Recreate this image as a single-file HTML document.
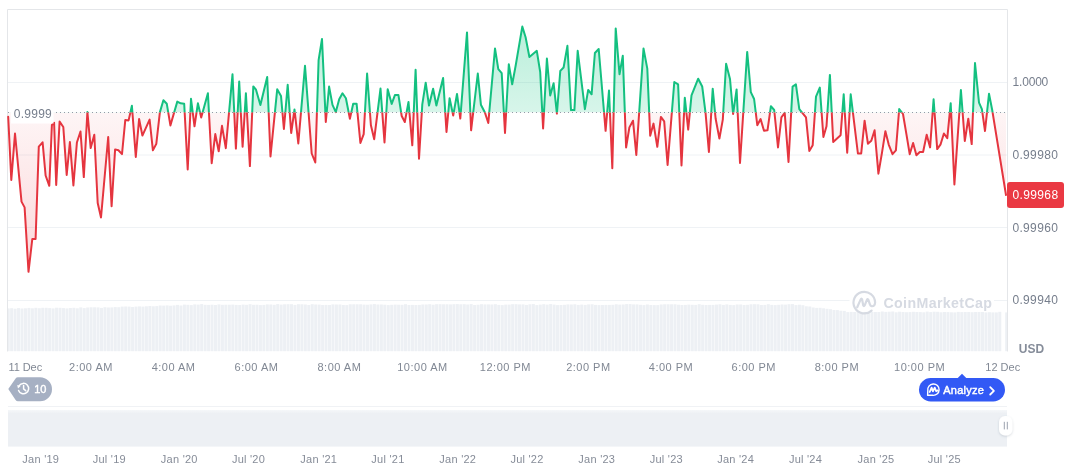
<!DOCTYPE html>
<html><head><meta charset="utf-8"><title>Chart</title>
<style>
html,body{margin:0;padding:0;background:#fff;}
body{width:1072px;height:470px;overflow:hidden;position:relative;font-family:"Liberation Sans",Arial,sans-serif;}
svg{position:absolute;left:0;top:0;display:block;}
svg text{font-family:"Liberation Sans",Arial,sans-serif;}
</style></head><body>
<svg width="1072" height="470" viewBox="0 0 1072 470">
<defs>
 <clipPath id="above"><rect x="0" y="0" width="1072" height="112.4"/></clipPath>
 <clipPath id="below"><rect x="0" y="112.4" width="1072" height="300"/></clipPath>
 <linearGradient id="gfill" x1="0" y1="26" x2="0" y2="112.4" gradientUnits="userSpaceOnUse">
  <stop offset="0" stop-color="#16c784" stop-opacity="0.3"/>
  <stop offset="1" stop-color="#16c784" stop-opacity="0.17"/>
 </linearGradient>
 <linearGradient id="rfill" x1="0" y1="112.4" x2="0" y2="272" gradientUnits="userSpaceOnUse">
  <stop offset="0" stop-color="#ea3943" stop-opacity="0.05"/>
  <stop offset="1" stop-color="#ea3943" stop-opacity="0.2"/>
 </linearGradient>
 <linearGradient id="navg" x1="0" y1="410" x2="0" y2="446.6" gradientUnits="userSpaceOnUse">
  <stop offset="0" stop-color="#f5f7f9"/>
  <stop offset="0.1" stop-color="#edf0f4"/>
  <stop offset="1" stop-color="#edf0f4"/>
 </linearGradient>
 <filter id="hs" x="-50%" y="-50%" width="200%" height="200%">
  <feDropShadow dx="0" dy="1" stdDeviation="1.2" flood-color="#58667e" flood-opacity="0.25"/>
 </filter>
</defs>

<!-- grid -->
<g stroke="#eff2f5" stroke-width="1" fill="none">
 <line x1="8" y1="82.5" x2="1007" y2="82.5"/>
 <line x1="8" y1="155" x2="1007" y2="155"/>
 <line x1="8" y1="227.5" x2="1007" y2="227.5"/>
 <line x1="8" y1="300.5" x2="1007" y2="300.5"/>
</g>
<path d="M7.5 351.5V9.5H1007.5V351.5" fill="none" stroke="#e4e6e9" stroke-width="1"/>

<!-- watermark -->
<rect x="849.5" y="289" width="144.5" height="22.5" fill="#fff"/>
<!-- volume -->
<g fill="#edf0f4">
<rect x="8.00" y="308.4" width="1.70" height="42.8"/>
<rect x="10.15" y="308.2" width="3.00" height="43.0"/>
<rect x="13.61" y="308.7" width="3.00" height="42.5"/>
<rect x="17.06" y="308.1" width="3.00" height="43.1"/>
<rect x="20.52" y="308.5" width="3.00" height="42.7"/>
<rect x="23.97" y="308.3" width="3.00" height="42.9"/>
<rect x="27.43" y="307.9" width="3.00" height="43.3"/>
<rect x="30.89" y="308.3" width="3.00" height="42.9"/>
<rect x="34.34" y="307.8" width="3.00" height="43.4"/>
<rect x="37.80" y="308.2" width="3.00" height="43.0"/>
<rect x="41.25" y="307.8" width="3.00" height="43.4"/>
<rect x="44.70" y="307.8" width="3.00" height="43.4"/>
<rect x="48.16" y="308.1" width="3.00" height="43.1"/>
<rect x="51.61" y="308.4" width="3.00" height="42.8"/>
<rect x="55.07" y="307.7" width="3.00" height="43.5"/>
<rect x="58.53" y="307.8" width="3.00" height="43.4"/>
<rect x="61.98" y="308.1" width="3.00" height="43.1"/>
<rect x="65.44" y="308.4" width="3.00" height="42.8"/>
<rect x="68.89" y="308.0" width="3.00" height="43.2"/>
<rect x="72.34" y="307.8" width="3.00" height="43.4"/>
<rect x="75.80" y="308.3" width="3.00" height="42.9"/>
<rect x="79.26" y="307.4" width="3.00" height="43.8"/>
<rect x="82.71" y="308.1" width="3.00" height="43.1"/>
<rect x="86.17" y="307.5" width="3.00" height="43.7"/>
<rect x="89.62" y="307.3" width="3.00" height="43.9"/>
<rect x="93.08" y="307.3" width="3.00" height="43.9"/>
<rect x="96.53" y="307.4" width="3.00" height="43.8"/>
<rect x="99.98" y="307.9" width="3.00" height="43.3"/>
<rect x="103.44" y="307.2" width="3.00" height="44.0"/>
<rect x="106.90" y="307.5" width="3.00" height="43.7"/>
<rect x="110.35" y="307.4" width="3.00" height="43.8"/>
<rect x="113.81" y="307.1" width="3.00" height="44.1"/>
<rect x="117.26" y="307.2" width="3.00" height="44.0"/>
<rect x="120.72" y="306.6" width="3.00" height="44.6"/>
<rect x="124.17" y="306.5" width="3.00" height="44.7"/>
<rect x="127.62" y="306.6" width="3.00" height="44.6"/>
<rect x="131.08" y="307.0" width="3.00" height="44.2"/>
<rect x="134.53" y="306.6" width="3.00" height="44.6"/>
<rect x="137.99" y="306.4" width="3.00" height="44.8"/>
<rect x="141.44" y="306.6" width="3.00" height="44.6"/>
<rect x="144.90" y="306.3" width="3.00" height="44.9"/>
<rect x="148.35" y="306.0" width="3.00" height="45.2"/>
<rect x="151.81" y="306.3" width="3.00" height="44.9"/>
<rect x="155.26" y="306.1" width="3.00" height="45.1"/>
<rect x="158.72" y="305.5" width="3.00" height="45.7"/>
<rect x="162.17" y="305.6" width="3.00" height="45.6"/>
<rect x="165.63" y="305.4" width="3.00" height="45.8"/>
<rect x="169.08" y="305.7" width="3.00" height="45.5"/>
<rect x="172.54" y="305.4" width="3.00" height="45.8"/>
<rect x="176.00" y="304.9" width="3.00" height="46.3"/>
<rect x="179.45" y="305.5" width="3.00" height="45.7"/>
<rect x="182.91" y="304.6" width="3.00" height="46.6"/>
<rect x="186.36" y="304.8" width="3.00" height="46.4"/>
<rect x="189.81" y="305.1" width="3.00" height="46.1"/>
<rect x="193.27" y="304.4" width="3.00" height="46.8"/>
<rect x="196.72" y="304.6" width="3.00" height="46.6"/>
<rect x="200.18" y="304.1" width="3.00" height="47.1"/>
<rect x="203.63" y="304.8" width="3.00" height="46.4"/>
<rect x="207.09" y="304.9" width="3.00" height="46.3"/>
<rect x="210.54" y="304.7" width="3.00" height="46.5"/>
<rect x="214.00" y="305.0" width="3.00" height="46.2"/>
<rect x="217.45" y="304.4" width="3.00" height="46.8"/>
<rect x="220.91" y="304.8" width="3.00" height="46.4"/>
<rect x="224.36" y="304.7" width="3.00" height="46.5"/>
<rect x="227.82" y="304.7" width="3.00" height="46.5"/>
<rect x="231.28" y="304.6" width="3.00" height="46.6"/>
<rect x="234.73" y="304.9" width="3.00" height="46.3"/>
<rect x="238.19" y="305.0" width="3.00" height="46.2"/>
<rect x="241.64" y="304.6" width="3.00" height="46.6"/>
<rect x="245.09" y="304.8" width="3.00" height="46.4"/>
<rect x="248.55" y="304.2" width="3.00" height="47.0"/>
<rect x="252.00" y="304.8" width="3.00" height="46.4"/>
<rect x="255.46" y="304.7" width="3.00" height="46.5"/>
<rect x="258.92" y="305.1" width="3.00" height="46.1"/>
<rect x="262.37" y="304.9" width="3.00" height="46.3"/>
<rect x="265.82" y="304.4" width="3.00" height="46.8"/>
<rect x="269.28" y="304.5" width="3.00" height="46.7"/>
<rect x="272.74" y="304.8" width="3.00" height="46.4"/>
<rect x="276.19" y="304.1" width="3.00" height="47.1"/>
<rect x="279.64" y="304.6" width="3.00" height="46.6"/>
<rect x="283.10" y="304.3" width="3.00" height="46.9"/>
<rect x="286.56" y="304.2" width="3.00" height="47.0"/>
<rect x="290.01" y="304.2" width="3.00" height="47.0"/>
<rect x="293.46" y="304.9" width="3.00" height="46.3"/>
<rect x="296.92" y="304.2" width="3.00" height="47.0"/>
<rect x="300.38" y="304.3" width="3.00" height="46.9"/>
<rect x="303.83" y="304.5" width="3.00" height="46.7"/>
<rect x="307.28" y="305.0" width="3.00" height="46.2"/>
<rect x="310.74" y="304.2" width="3.00" height="47.0"/>
<rect x="314.19" y="304.5" width="3.00" height="46.7"/>
<rect x="317.65" y="304.6" width="3.00" height="46.6"/>
<rect x="321.11" y="305.0" width="3.00" height="46.2"/>
<rect x="324.56" y="304.9" width="3.00" height="46.3"/>
<rect x="328.01" y="305.0" width="3.00" height="46.2"/>
<rect x="331.47" y="304.4" width="3.00" height="46.8"/>
<rect x="334.93" y="304.5" width="3.00" height="46.7"/>
<rect x="338.38" y="304.5" width="3.00" height="46.7"/>
<rect x="341.83" y="305.0" width="3.00" height="46.2"/>
<rect x="345.29" y="305.1" width="3.00" height="46.1"/>
<rect x="348.75" y="304.3" width="3.00" height="46.9"/>
<rect x="352.20" y="304.3" width="3.00" height="46.9"/>
<rect x="355.65" y="304.3" width="3.00" height="46.9"/>
<rect x="359.11" y="304.3" width="3.00" height="46.9"/>
<rect x="362.56" y="304.6" width="3.00" height="46.6"/>
<rect x="366.02" y="304.7" width="3.00" height="46.5"/>
<rect x="369.48" y="304.4" width="3.00" height="46.8"/>
<rect x="372.93" y="304.1" width="3.00" height="47.1"/>
<rect x="376.38" y="304.5" width="3.00" height="46.7"/>
<rect x="379.84" y="304.5" width="3.00" height="46.7"/>
<rect x="383.30" y="304.7" width="3.00" height="46.5"/>
<rect x="386.75" y="305.1" width="3.00" height="46.1"/>
<rect x="390.20" y="304.8" width="3.00" height="46.4"/>
<rect x="393.66" y="304.6" width="3.00" height="46.6"/>
<rect x="397.12" y="304.7" width="3.00" height="46.5"/>
<rect x="400.57" y="304.8" width="3.00" height="46.4"/>
<rect x="404.02" y="304.2" width="3.00" height="47.0"/>
<rect x="407.48" y="305.0" width="3.00" height="46.2"/>
<rect x="410.94" y="304.9" width="3.00" height="46.3"/>
<rect x="414.39" y="305.0" width="3.00" height="46.2"/>
<rect x="417.84" y="304.9" width="3.00" height="46.3"/>
<rect x="421.30" y="304.5" width="3.00" height="46.7"/>
<rect x="424.75" y="304.5" width="3.00" height="46.7"/>
<rect x="428.21" y="304.2" width="3.00" height="47.0"/>
<rect x="431.67" y="304.7" width="3.00" height="46.5"/>
<rect x="435.12" y="304.2" width="3.00" height="47.0"/>
<rect x="438.57" y="304.2" width="3.00" height="47.0"/>
<rect x="442.03" y="304.3" width="3.00" height="46.9"/>
<rect x="445.49" y="304.3" width="3.00" height="46.9"/>
<rect x="448.94" y="304.4" width="3.00" height="46.8"/>
<rect x="452.39" y="304.2" width="3.00" height="47.0"/>
<rect x="455.85" y="304.1" width="3.00" height="47.1"/>
<rect x="459.31" y="304.3" width="3.00" height="46.9"/>
<rect x="462.76" y="304.2" width="3.00" height="47.0"/>
<rect x="466.21" y="304.5" width="3.00" height="46.7"/>
<rect x="469.67" y="304.1" width="3.00" height="47.1"/>
<rect x="473.12" y="305.0" width="3.00" height="46.2"/>
<rect x="476.58" y="304.7" width="3.00" height="46.5"/>
<rect x="480.04" y="304.2" width="3.00" height="47.0"/>
<rect x="483.49" y="304.4" width="3.00" height="46.8"/>
<rect x="486.94" y="304.4" width="3.00" height="46.8"/>
<rect x="490.40" y="304.5" width="3.00" height="46.7"/>
<rect x="493.86" y="304.2" width="3.00" height="47.0"/>
<rect x="497.31" y="304.9" width="3.00" height="46.3"/>
<rect x="500.76" y="305.1" width="3.00" height="46.1"/>
<rect x="504.22" y="304.6" width="3.00" height="46.6"/>
<rect x="507.68" y="304.6" width="3.00" height="46.6"/>
<rect x="511.13" y="304.2" width="3.00" height="47.0"/>
<rect x="514.59" y="304.2" width="3.00" height="47.0"/>
<rect x="518.04" y="304.4" width="3.00" height="46.8"/>
<rect x="521.50" y="304.4" width="3.00" height="46.8"/>
<rect x="524.95" y="304.9" width="3.00" height="46.3"/>
<rect x="528.41" y="304.3" width="3.00" height="46.9"/>
<rect x="531.86" y="304.1" width="3.00" height="47.1"/>
<rect x="535.32" y="305.1" width="3.00" height="46.1"/>
<rect x="538.77" y="304.6" width="3.00" height="46.6"/>
<rect x="542.23" y="304.2" width="3.00" height="47.0"/>
<rect x="545.68" y="304.6" width="3.00" height="46.6"/>
<rect x="549.14" y="304.1" width="3.00" height="47.1"/>
<rect x="552.59" y="304.6" width="3.00" height="46.6"/>
<rect x="556.05" y="305.1" width="3.00" height="46.1"/>
<rect x="559.50" y="305.0" width="3.00" height="46.2"/>
<rect x="562.96" y="304.8" width="3.00" height="46.4"/>
<rect x="566.41" y="304.4" width="3.00" height="46.8"/>
<rect x="569.87" y="304.5" width="3.00" height="46.7"/>
<rect x="573.32" y="304.3" width="3.00" height="46.9"/>
<rect x="576.78" y="304.9" width="3.00" height="46.3"/>
<rect x="580.23" y="304.6" width="3.00" height="46.6"/>
<rect x="583.69" y="304.9" width="3.00" height="46.3"/>
<rect x="587.14" y="304.4" width="3.00" height="46.8"/>
<rect x="590.60" y="304.3" width="3.00" height="46.9"/>
<rect x="594.05" y="304.9" width="3.00" height="46.3"/>
<rect x="597.51" y="305.1" width="3.00" height="46.1"/>
<rect x="600.96" y="305.0" width="3.00" height="46.2"/>
<rect x="604.42" y="304.9" width="3.00" height="46.3"/>
<rect x="607.87" y="304.9" width="3.00" height="46.3"/>
<rect x="611.33" y="304.8" width="3.00" height="46.4"/>
<rect x="614.78" y="304.3" width="3.00" height="46.9"/>
<rect x="618.24" y="304.6" width="3.00" height="46.6"/>
<rect x="621.69" y="304.5" width="3.00" height="46.7"/>
<rect x="625.15" y="304.1" width="3.00" height="47.1"/>
<rect x="628.60" y="304.1" width="3.00" height="47.1"/>
<rect x="632.06" y="304.4" width="3.00" height="46.8"/>
<rect x="635.51" y="304.4" width="3.00" height="46.8"/>
<rect x="638.97" y="304.8" width="3.00" height="46.4"/>
<rect x="642.42" y="305.1" width="3.00" height="46.1"/>
<rect x="645.88" y="304.5" width="3.00" height="46.7"/>
<rect x="649.33" y="305.0" width="3.00" height="46.2"/>
<rect x="652.79" y="305.1" width="3.00" height="46.1"/>
<rect x="656.24" y="305.1" width="3.00" height="46.1"/>
<rect x="659.70" y="304.5" width="3.00" height="46.7"/>
<rect x="663.15" y="304.3" width="3.00" height="46.9"/>
<rect x="666.61" y="304.3" width="3.00" height="46.9"/>
<rect x="670.06" y="304.3" width="3.00" height="46.9"/>
<rect x="673.52" y="304.3" width="3.00" height="46.9"/>
<rect x="676.97" y="304.7" width="3.00" height="46.5"/>
<rect x="680.43" y="305.0" width="3.00" height="46.2"/>
<rect x="683.88" y="304.9" width="3.00" height="46.3"/>
<rect x="687.34" y="304.6" width="3.00" height="46.6"/>
<rect x="690.79" y="304.8" width="3.00" height="46.4"/>
<rect x="694.25" y="304.9" width="3.00" height="46.3"/>
<rect x="697.70" y="304.2" width="3.00" height="47.0"/>
<rect x="701.16" y="304.8" width="3.00" height="46.4"/>
<rect x="704.61" y="305.0" width="3.00" height="46.2"/>
<rect x="708.07" y="304.9" width="3.00" height="46.3"/>
<rect x="711.52" y="304.9" width="3.00" height="46.3"/>
<rect x="714.98" y="304.6" width="3.00" height="46.6"/>
<rect x="718.43" y="304.3" width="3.00" height="46.9"/>
<rect x="721.89" y="304.9" width="3.00" height="46.3"/>
<rect x="725.34" y="304.4" width="3.00" height="46.8"/>
<rect x="728.80" y="304.9" width="3.00" height="46.3"/>
<rect x="732.25" y="305.1" width="3.00" height="46.1"/>
<rect x="735.71" y="304.5" width="3.00" height="46.7"/>
<rect x="739.16" y="304.5" width="3.00" height="46.7"/>
<rect x="742.62" y="305.0" width="3.00" height="46.2"/>
<rect x="746.07" y="304.8" width="3.00" height="46.4"/>
<rect x="749.53" y="304.3" width="3.00" height="46.9"/>
<rect x="752.98" y="304.2" width="3.00" height="47.0"/>
<rect x="756.44" y="304.3" width="3.00" height="46.9"/>
<rect x="759.89" y="305.0" width="3.00" height="46.2"/>
<rect x="763.35" y="304.9" width="3.00" height="46.3"/>
<rect x="766.80" y="304.2" width="3.00" height="47.0"/>
<rect x="770.26" y="304.9" width="3.00" height="46.3"/>
<rect x="773.71" y="305.1" width="3.00" height="46.1"/>
<rect x="777.17" y="304.8" width="3.00" height="46.4"/>
<rect x="780.62" y="304.5" width="3.00" height="46.7"/>
<rect x="784.08" y="304.6" width="3.00" height="46.6"/>
<rect x="787.53" y="304.2" width="3.00" height="47.0"/>
<rect x="790.99" y="304.1" width="3.00" height="47.1"/>
<rect x="794.44" y="305.1" width="3.00" height="46.1"/>
<rect x="797.90" y="304.7" width="3.00" height="46.5"/>
<rect x="801.35" y="305.2" width="3.00" height="46.0"/>
<rect x="804.81" y="306.3" width="3.00" height="44.9"/>
<rect x="808.26" y="306.5" width="3.00" height="44.7"/>
<rect x="811.72" y="307.5" width="3.00" height="43.7"/>
<rect x="815.17" y="307.9" width="3.00" height="43.3"/>
<rect x="818.63" y="307.8" width="3.00" height="43.4"/>
<rect x="822.08" y="308.3" width="3.00" height="42.9"/>
<rect x="825.54" y="308.8" width="3.00" height="42.4"/>
<rect x="828.99" y="309.2" width="3.00" height="42.0"/>
<rect x="832.45" y="310.0" width="3.00" height="41.2"/>
<rect x="835.90" y="310.1" width="3.00" height="41.1"/>
<rect x="839.36" y="310.7" width="3.00" height="40.5"/>
<rect x="842.81" y="310.9" width="3.00" height="40.3"/>
<rect x="846.27" y="312.1" width="3.00" height="39.1"/>
<rect x="849.72" y="311.9" width="3.00" height="39.3"/>
<rect x="853.18" y="312.0" width="3.00" height="39.2"/>
<rect x="856.63" y="312.1" width="3.00" height="39.1"/>
<rect x="860.09" y="312.4" width="3.00" height="38.8"/>
<rect x="863.54" y="311.9" width="3.00" height="39.3"/>
<rect x="867.00" y="312.4" width="3.00" height="38.8"/>
<rect x="870.45" y="312.0" width="3.00" height="39.2"/>
<rect x="873.91" y="312.0" width="3.00" height="39.2"/>
<rect x="877.36" y="312.0" width="3.00" height="39.2"/>
<rect x="880.82" y="311.5" width="3.00" height="39.7"/>
<rect x="884.27" y="311.9" width="3.00" height="39.3"/>
<rect x="887.73" y="311.7" width="3.00" height="39.5"/>
<rect x="891.18" y="311.5" width="3.00" height="39.7"/>
<rect x="894.64" y="312.3" width="3.00" height="38.9"/>
<rect x="898.09" y="311.7" width="3.00" height="39.5"/>
<rect x="901.55" y="312.0" width="3.00" height="39.2"/>
<rect x="905.00" y="312.2" width="3.00" height="39.0"/>
<rect x="908.46" y="312.1" width="3.00" height="39.1"/>
<rect x="911.91" y="311.8" width="3.00" height="39.4"/>
<rect x="915.37" y="312.0" width="3.00" height="39.2"/>
<rect x="918.82" y="312.1" width="3.00" height="39.1"/>
<rect x="922.28" y="312.3" width="3.00" height="38.9"/>
<rect x="925.73" y="311.6" width="3.00" height="39.6"/>
<rect x="929.19" y="312.1" width="3.00" height="39.1"/>
<rect x="932.64" y="311.7" width="3.00" height="39.5"/>
<rect x="936.10" y="311.8" width="3.00" height="39.4"/>
<rect x="939.55" y="312.3" width="3.00" height="38.9"/>
<rect x="943.01" y="312.0" width="3.00" height="39.2"/>
<rect x="946.46" y="312.1" width="3.00" height="39.1"/>
<rect x="949.92" y="312.3" width="3.00" height="38.9"/>
<rect x="953.37" y="312.4" width="3.00" height="38.8"/>
<rect x="956.83" y="311.9" width="3.00" height="39.3"/>
<rect x="960.28" y="312.1" width="3.00" height="39.1"/>
<rect x="963.74" y="312.0" width="3.00" height="39.2"/>
<rect x="967.19" y="312.0" width="3.00" height="39.2"/>
<rect x="970.65" y="312.2" width="3.00" height="39.0"/>
<rect x="974.10" y="312.0" width="3.00" height="39.2"/>
<rect x="977.56" y="312.0" width="3.00" height="39.2"/>
<rect x="981.01" y="312.0" width="3.00" height="39.2"/>
<rect x="984.47" y="312.4" width="3.00" height="38.8"/>
<rect x="987.92" y="312.2" width="3.00" height="39.0"/>
<rect x="991.38" y="312.4" width="3.00" height="38.8"/>
<rect x="994.83" y="312.4" width="3.00" height="38.8"/>
<rect x="998.29" y="311.8" width="3.00" height="39.4"/>
<rect x="1005.20" y="312.4" width="1.80" height="38.8"/>
</g>

<g fill="none" stroke="#d6dae2" stroke-width="2.2" stroke-linecap="round" stroke-linejoin="round">
 <path d="M871.6 310.6A10.8 10.8 0 1 1 875.1 302.6Q874.8 306.6 871.6 306.2Q870.4 306 869.8 304.2L868.4 299.9Q867.7 298.2 866.9 299.9L864.7 305.3Q863.9 306.8 863.2 305.3L862.1 299.4Q861.5 297.6 860.7 299.4L857.2 307.2"/>
</g>
<text x="883.4" y="308.2" font-size="14.2" font-weight="700" fill="#d6dae2" letter-spacing="0.38">CoinMarketCap</text>

<!-- area fills -->
<polygon points="8.2,112.4 8.2,116.8 11.3,180 15,133.5 21.5,201.6 24.6,207.4 28.5,271.8 32.3,239 35.6,239 38.8,146.6 42.6,142.3 45.6,175.5 49.3,185.8 51.9,125 54.1,122.8 56.2,185 59.6,121.6 63.3,127 66.7,175 69.9,142 73.4,185.5 76.9,142.5 80.5,131.5 83.8,177.1 87.4,112.1 90.7,148.1 94.3,134.8 97.7,203 101,217.5 108.2,137 111.6,206.2 115.1,149.4 118.4,150.3 122,154.1 125.3,119.9 128.6,120.4 131.9,105.8 135.8,156.9 139.1,119 142.4,135.6 149.6,119.6 152.9,150.3 156.3,143.9 159.9,112.1 163.4,100.2 166.8,103.8 170.4,125.4 177.3,101.6 180.6,103.3 184.2,103.8 187.7,169.5 191,98.8 194.5,126.3 197.9,103.3 201.2,117.5 207.9,93.3 211.7,163.2 215.3,134.1 218.7,151.3 222,125.8 225.8,148.2 232.5,74.3 235.9,148.6 239.2,81.5 242.6,146.8 245.9,93.3 249.9,166.1 253.3,86.4 256,89.7 260.4,105 267.2,77 270.5,156.5 277.2,89.3 281,95.9 283.9,129 287.7,84.8 291.2,133 294.5,109.5 298.3,143.5 305,65.8 311.7,153.5 315.3,162.5 318.6,60.2 322,39 325.8,122 329.1,86.6 332.5,104.9 335.8,112.1 339.2,99.3 342.5,93.3 345.9,98.2 349.9,118.7 353.2,103.7 356.6,103.7 360.4,143 363.7,134.1 367.1,73.6 370.9,125.2 374.2,139.2 380.5,88.6 384.5,142.4 387.7,89.3 391.7,103.9 395,94.9 398.4,94.9 401.7,116 404.8,122 408.5,102 412.3,145.3 415.6,69.7 419,158.7 422.3,104.4 425.7,82.7 429,105.5 433.1,88.7 436.4,105.5 443.1,78 446.5,131.9 449.6,98.2 453.2,115.5 457,94 460.3,118.5 467,32.4 471.1,130.3 477.8,73.5 480.9,104.7 484.9,112.5 488.3,123 495,48.5 498.3,69.1 501.7,73.1 505,133 508.8,64.2 512.2,84.3 515.6,66 522.3,26.6 525.6,37.3 529.4,57 536.8,50.8 540.2,72 543.1,128.5 546.9,58.6 550.2,95.4 553.6,83.2 556.9,113.6 560.3,70.9 563.6,67.5 567.4,45.8 571,110.1 574.4,110.1 577.7,50.8 584.9,109.2 588.2,89.9 591.6,94.3 594.9,53 598.7,49 605.6,130.8 609,90.5 612.3,168.3 615.7,28.4 619.5,74.2 622.8,55.7 626.1,147.5 629.4,127.4 633,120.7 636.3,154.9 643.5,48.5 647.3,68.6 650.2,135.7 653.5,123.6 657.3,146.8 660.9,116.9 664.2,121.4 667.6,164.9 674.3,82 678.1,84.3 681.5,165.4 684.8,97.7 688.2,129.6 691.5,95.4 698.2,78.7 702.2,86.5 705.6,113.3 708.9,152 712.7,88.7 715.6,118.5 719.4,138.6 722.8,119.6 726.1,63.7 730,79 733.1,114 736.6,89.4 740,163 747.2,51.9 750.8,92.1 754.1,99 757.3,125.2 760.6,119.1 764,130.8 767.5,130.3 770.9,106.2 774.2,110 778,147.5 781.4,117.3 784.7,112.9 788.5,162 792.6,86.5 795.9,84.3 799.3,109.2 806,117.3 809.3,150.9 812.7,145.3 816,96.6 819.8,87.6 823.4,137 826.5,126.3 829.9,74.9 833.2,141.9 840.6,135.2 843.7,94.3 847.2,152.7 850.7,94.3 857.9,153.5 861.2,153.5 864.6,120.7 867.9,143.7 871.3,140.8 874.6,130.3 878.4,173.7 882,152.7 885.4,131.2 888.7,144.6 892.5,154.2 895.9,150.4 899.2,109 903,114 906.4,134.1 909.7,154.2 913.1,143 916.4,155.3 919.8,152 923.1,152 926.7,134.8 930.1,147.4 933.6,99.3 937.2,149.1 940.6,144.3 943.9,133.5 947.3,138.2 950.7,103.2 954.4,184.4 960.9,90 964.8,141 968.3,118.7 971.7,144.1 975,63.1 979,102.7 981.9,109.1 985,131 989,93.8 992.2,110 1006,195 1006,112.4" fill="url(#gfill)" clip-path="url(#above)"/>
<polygon points="8.2,112.4 8.2,116.8 11.3,180 15,133.5 21.5,201.6 24.6,207.4 28.5,271.8 32.3,239 35.6,239 38.8,146.6 42.6,142.3 45.6,175.5 49.3,185.8 51.9,125 54.1,122.8 56.2,185 59.6,121.6 63.3,127 66.7,175 69.9,142 73.4,185.5 76.9,142.5 80.5,131.5 83.8,177.1 87.4,112.1 90.7,148.1 94.3,134.8 97.7,203 101,217.5 108.2,137 111.6,206.2 115.1,149.4 118.4,150.3 122,154.1 125.3,119.9 128.6,120.4 131.9,105.8 135.8,156.9 139.1,119 142.4,135.6 149.6,119.6 152.9,150.3 156.3,143.9 159.9,112.1 163.4,100.2 166.8,103.8 170.4,125.4 177.3,101.6 180.6,103.3 184.2,103.8 187.7,169.5 191,98.8 194.5,126.3 197.9,103.3 201.2,117.5 207.9,93.3 211.7,163.2 215.3,134.1 218.7,151.3 222,125.8 225.8,148.2 232.5,74.3 235.9,148.6 239.2,81.5 242.6,146.8 245.9,93.3 249.9,166.1 253.3,86.4 256,89.7 260.4,105 267.2,77 270.5,156.5 277.2,89.3 281,95.9 283.9,129 287.7,84.8 291.2,133 294.5,109.5 298.3,143.5 305,65.8 311.7,153.5 315.3,162.5 318.6,60.2 322,39 325.8,122 329.1,86.6 332.5,104.9 335.8,112.1 339.2,99.3 342.5,93.3 345.9,98.2 349.9,118.7 353.2,103.7 356.6,103.7 360.4,143 363.7,134.1 367.1,73.6 370.9,125.2 374.2,139.2 380.5,88.6 384.5,142.4 387.7,89.3 391.7,103.9 395,94.9 398.4,94.9 401.7,116 404.8,122 408.5,102 412.3,145.3 415.6,69.7 419,158.7 422.3,104.4 425.7,82.7 429,105.5 433.1,88.7 436.4,105.5 443.1,78 446.5,131.9 449.6,98.2 453.2,115.5 457,94 460.3,118.5 467,32.4 471.1,130.3 477.8,73.5 480.9,104.7 484.9,112.5 488.3,123 495,48.5 498.3,69.1 501.7,73.1 505,133 508.8,64.2 512.2,84.3 515.6,66 522.3,26.6 525.6,37.3 529.4,57 536.8,50.8 540.2,72 543.1,128.5 546.9,58.6 550.2,95.4 553.6,83.2 556.9,113.6 560.3,70.9 563.6,67.5 567.4,45.8 571,110.1 574.4,110.1 577.7,50.8 584.9,109.2 588.2,89.9 591.6,94.3 594.9,53 598.7,49 605.6,130.8 609,90.5 612.3,168.3 615.7,28.4 619.5,74.2 622.8,55.7 626.1,147.5 629.4,127.4 633,120.7 636.3,154.9 643.5,48.5 647.3,68.6 650.2,135.7 653.5,123.6 657.3,146.8 660.9,116.9 664.2,121.4 667.6,164.9 674.3,82 678.1,84.3 681.5,165.4 684.8,97.7 688.2,129.6 691.5,95.4 698.2,78.7 702.2,86.5 705.6,113.3 708.9,152 712.7,88.7 715.6,118.5 719.4,138.6 722.8,119.6 726.1,63.7 730,79 733.1,114 736.6,89.4 740,163 747.2,51.9 750.8,92.1 754.1,99 757.3,125.2 760.6,119.1 764,130.8 767.5,130.3 770.9,106.2 774.2,110 778,147.5 781.4,117.3 784.7,112.9 788.5,162 792.6,86.5 795.9,84.3 799.3,109.2 806,117.3 809.3,150.9 812.7,145.3 816,96.6 819.8,87.6 823.4,137 826.5,126.3 829.9,74.9 833.2,141.9 840.6,135.2 843.7,94.3 847.2,152.7 850.7,94.3 857.9,153.5 861.2,153.5 864.6,120.7 867.9,143.7 871.3,140.8 874.6,130.3 878.4,173.7 882,152.7 885.4,131.2 888.7,144.6 892.5,154.2 895.9,150.4 899.2,109 903,114 906.4,134.1 909.7,154.2 913.1,143 916.4,155.3 919.8,152 923.1,152 926.7,134.8 930.1,147.4 933.6,99.3 937.2,149.1 940.6,144.3 943.9,133.5 947.3,138.2 950.7,103.2 954.4,184.4 960.9,90 964.8,141 968.3,118.7 971.7,144.1 975,63.1 979,102.7 981.9,109.1 985,131 989,93.8 992.2,110 1006,195 1006,112.4" fill="url(#rfill)" clip-path="url(#below)"/>

<!-- baseline dotted -->
<line x1="8" y1="112.5" x2="1007" y2="112.5" stroke="#939aa7" stroke-width="1" stroke-dasharray="1 3"/>

<!-- price line -->
<polyline points="8.2,116.8 11.3,180 15,133.5 21.5,201.6 24.6,207.4 28.5,271.8 32.3,239 35.6,239 38.8,146.6 42.6,142.3 45.6,175.5 49.3,185.8 51.9,125 54.1,122.8 56.2,185 59.6,121.6 63.3,127 66.7,175 69.9,142 73.4,185.5 76.9,142.5 80.5,131.5 83.8,177.1 87.4,112.1 90.7,148.1 94.3,134.8 97.7,203 101,217.5 108.2,137 111.6,206.2 115.1,149.4 118.4,150.3 122,154.1 125.3,119.9 128.6,120.4 131.9,105.8 135.8,156.9 139.1,119 142.4,135.6 149.6,119.6 152.9,150.3 156.3,143.9 159.9,112.1 163.4,100.2 166.8,103.8 170.4,125.4 177.3,101.6 180.6,103.3 184.2,103.8 187.7,169.5 191,98.8 194.5,126.3 197.9,103.3 201.2,117.5 207.9,93.3 211.7,163.2 215.3,134.1 218.7,151.3 222,125.8 225.8,148.2 232.5,74.3 235.9,148.6 239.2,81.5 242.6,146.8 245.9,93.3 249.9,166.1 253.3,86.4 256,89.7 260.4,105 267.2,77 270.5,156.5 277.2,89.3 281,95.9 283.9,129 287.7,84.8 291.2,133 294.5,109.5 298.3,143.5 305,65.8 311.7,153.5 315.3,162.5 318.6,60.2 322,39 325.8,122 329.1,86.6 332.5,104.9 335.8,112.1 339.2,99.3 342.5,93.3 345.9,98.2 349.9,118.7 353.2,103.7 356.6,103.7 360.4,143 363.7,134.1 367.1,73.6 370.9,125.2 374.2,139.2 380.5,88.6 384.5,142.4 387.7,89.3 391.7,103.9 395,94.9 398.4,94.9 401.7,116 404.8,122 408.5,102 412.3,145.3 415.6,69.7 419,158.7 422.3,104.4 425.7,82.7 429,105.5 433.1,88.7 436.4,105.5 443.1,78 446.5,131.9 449.6,98.2 453.2,115.5 457,94 460.3,118.5 467,32.4 471.1,130.3 477.8,73.5 480.9,104.7 484.9,112.5 488.3,123 495,48.5 498.3,69.1 501.7,73.1 505,133 508.8,64.2 512.2,84.3 515.6,66 522.3,26.6 525.6,37.3 529.4,57 536.8,50.8 540.2,72 543.1,128.5 546.9,58.6 550.2,95.4 553.6,83.2 556.9,113.6 560.3,70.9 563.6,67.5 567.4,45.8 571,110.1 574.4,110.1 577.7,50.8 584.9,109.2 588.2,89.9 591.6,94.3 594.9,53 598.7,49 605.6,130.8 609,90.5 612.3,168.3 615.7,28.4 619.5,74.2 622.8,55.7 626.1,147.5 629.4,127.4 633,120.7 636.3,154.9 643.5,48.5 647.3,68.6 650.2,135.7 653.5,123.6 657.3,146.8 660.9,116.9 664.2,121.4 667.6,164.9 674.3,82 678.1,84.3 681.5,165.4 684.8,97.7 688.2,129.6 691.5,95.4 698.2,78.7 702.2,86.5 705.6,113.3 708.9,152 712.7,88.7 715.6,118.5 719.4,138.6 722.8,119.6 726.1,63.7 730,79 733.1,114 736.6,89.4 740,163 747.2,51.9 750.8,92.1 754.1,99 757.3,125.2 760.6,119.1 764,130.8 767.5,130.3 770.9,106.2 774.2,110 778,147.5 781.4,117.3 784.7,112.9 788.5,162 792.6,86.5 795.9,84.3 799.3,109.2 806,117.3 809.3,150.9 812.7,145.3 816,96.6 819.8,87.6 823.4,137 826.5,126.3 829.9,74.9 833.2,141.9 840.6,135.2 843.7,94.3 847.2,152.7 850.7,94.3 857.9,153.5 861.2,153.5 864.6,120.7 867.9,143.7 871.3,140.8 874.6,130.3 878.4,173.7 882,152.7 885.4,131.2 888.7,144.6 892.5,154.2 895.9,150.4 899.2,109 903,114 906.4,134.1 909.7,154.2 913.1,143 916.4,155.3 919.8,152 923.1,152 926.7,134.8 930.1,147.4 933.6,99.3 937.2,149.1 940.6,144.3 943.9,133.5 947.3,138.2 950.7,103.2 954.4,184.4 960.9,90 964.8,141 968.3,118.7 971.7,144.1 975,63.1 979,102.7 981.9,109.1 985,131 989,93.8 992.2,110 1006,195" fill="none" stroke="#14c080" stroke-width="2" stroke-linejoin="round" stroke-linecap="round" clip-path="url(#above)"/>
<polyline points="8.2,116.8 11.3,180 15,133.5 21.5,201.6 24.6,207.4 28.5,271.8 32.3,239 35.6,239 38.8,146.6 42.6,142.3 45.6,175.5 49.3,185.8 51.9,125 54.1,122.8 56.2,185 59.6,121.6 63.3,127 66.7,175 69.9,142 73.4,185.5 76.9,142.5 80.5,131.5 83.8,177.1 87.4,112.1 90.7,148.1 94.3,134.8 97.7,203 101,217.5 108.2,137 111.6,206.2 115.1,149.4 118.4,150.3 122,154.1 125.3,119.9 128.6,120.4 131.9,105.8 135.8,156.9 139.1,119 142.4,135.6 149.6,119.6 152.9,150.3 156.3,143.9 159.9,112.1 163.4,100.2 166.8,103.8 170.4,125.4 177.3,101.6 180.6,103.3 184.2,103.8 187.7,169.5 191,98.8 194.5,126.3 197.9,103.3 201.2,117.5 207.9,93.3 211.7,163.2 215.3,134.1 218.7,151.3 222,125.8 225.8,148.2 232.5,74.3 235.9,148.6 239.2,81.5 242.6,146.8 245.9,93.3 249.9,166.1 253.3,86.4 256,89.7 260.4,105 267.2,77 270.5,156.5 277.2,89.3 281,95.9 283.9,129 287.7,84.8 291.2,133 294.5,109.5 298.3,143.5 305,65.8 311.7,153.5 315.3,162.5 318.6,60.2 322,39 325.8,122 329.1,86.6 332.5,104.9 335.8,112.1 339.2,99.3 342.5,93.3 345.9,98.2 349.9,118.7 353.2,103.7 356.6,103.7 360.4,143 363.7,134.1 367.1,73.6 370.9,125.2 374.2,139.2 380.5,88.6 384.5,142.4 387.7,89.3 391.7,103.9 395,94.9 398.4,94.9 401.7,116 404.8,122 408.5,102 412.3,145.3 415.6,69.7 419,158.7 422.3,104.4 425.7,82.7 429,105.5 433.1,88.7 436.4,105.5 443.1,78 446.5,131.9 449.6,98.2 453.2,115.5 457,94 460.3,118.5 467,32.4 471.1,130.3 477.8,73.5 480.9,104.7 484.9,112.5 488.3,123 495,48.5 498.3,69.1 501.7,73.1 505,133 508.8,64.2 512.2,84.3 515.6,66 522.3,26.6 525.6,37.3 529.4,57 536.8,50.8 540.2,72 543.1,128.5 546.9,58.6 550.2,95.4 553.6,83.2 556.9,113.6 560.3,70.9 563.6,67.5 567.4,45.8 571,110.1 574.4,110.1 577.7,50.8 584.9,109.2 588.2,89.9 591.6,94.3 594.9,53 598.7,49 605.6,130.8 609,90.5 612.3,168.3 615.7,28.4 619.5,74.2 622.8,55.7 626.1,147.5 629.4,127.4 633,120.7 636.3,154.9 643.5,48.5 647.3,68.6 650.2,135.7 653.5,123.6 657.3,146.8 660.9,116.9 664.2,121.4 667.6,164.9 674.3,82 678.1,84.3 681.5,165.4 684.8,97.7 688.2,129.6 691.5,95.4 698.2,78.7 702.2,86.5 705.6,113.3 708.9,152 712.7,88.7 715.6,118.5 719.4,138.6 722.8,119.6 726.1,63.7 730,79 733.1,114 736.6,89.4 740,163 747.2,51.9 750.8,92.1 754.1,99 757.3,125.2 760.6,119.1 764,130.8 767.5,130.3 770.9,106.2 774.2,110 778,147.5 781.4,117.3 784.7,112.9 788.5,162 792.6,86.5 795.9,84.3 799.3,109.2 806,117.3 809.3,150.9 812.7,145.3 816,96.6 819.8,87.6 823.4,137 826.5,126.3 829.9,74.9 833.2,141.9 840.6,135.2 843.7,94.3 847.2,152.7 850.7,94.3 857.9,153.5 861.2,153.5 864.6,120.7 867.9,143.7 871.3,140.8 874.6,130.3 878.4,173.7 882,152.7 885.4,131.2 888.7,144.6 892.5,154.2 895.9,150.4 899.2,109 903,114 906.4,134.1 909.7,154.2 913.1,143 916.4,155.3 919.8,152 923.1,152 926.7,134.8 930.1,147.4 933.6,99.3 937.2,149.1 940.6,144.3 943.9,133.5 947.3,138.2 950.7,103.2 954.4,184.4 960.9,90 964.8,141 968.3,118.7 971.7,144.1 975,63.1 979,102.7 981.9,109.1 985,131 989,93.8 992.2,110 1006,195" fill="none" stroke="#e5353f" stroke-width="2" stroke-linejoin="round" stroke-linecap="round" clip-path="url(#below)"/>

<!-- baseline label -->
<rect x="11" y="103" width="42.5" height="20.5" fill="#fff"/>
<text x="13.8" y="117.8" font-size="12" fill="#767e8c" letter-spacing="0.25">0.9999</text>

<!-- y axis labels -->
<g font-size="12" fill="#767e8c" letter-spacing="0.35">
 <text x="1012.6" y="86.3" letter-spacing="-0.2">1.0000</text>
 <text x="1012.4" y="159.1">0.99980</text>
 <text x="1012.4" y="231.8">0.99960</text>
 <text x="1012.4" y="304.4">0.99940</text>
</g>
<text x="1018.8" y="353" font-size="12" font-weight="700" fill="#868d9a">USD</text>

<!-- current price tag -->
<rect x="1007" y="182" width="57" height="26" rx="3" fill="#ea3943"/>
<text x="1012.6" y="199.2" font-size="12" fill="#fff" letter-spacing="0.35">0.99968</text>

<!-- x axis labels -->
<g font-size="11" fill="#818894" letter-spacing="0.5">
<text x="8.4" y="370.8" letter-spacing="-0.05">11 Dec</text>
<text x="91" y="370.8" text-anchor="middle">2:00 AM</text>
<text x="173.6" y="370.8" text-anchor="middle">4:00 AM</text>
<text x="256.5" y="370.8" text-anchor="middle">6:00 AM</text>
<text x="339.4" y="370.8" text-anchor="middle">8:00 AM</text>
<text x="422.5" y="370.8" text-anchor="middle">10:00 AM</text>
<text x="505.4" y="370.8" text-anchor="middle">12:00 PM</text>
<text x="588.4" y="370.8" text-anchor="middle">2:00 PM</text>
<text x="671" y="370.8" text-anchor="middle">4:00 PM</text>
<text x="753.8" y="370.8" text-anchor="middle">6:00 PM</text>
<text x="836.9" y="370.8" text-anchor="middle">8:00 PM</text>
<text x="919.6" y="370.8" text-anchor="middle">10:00 PM</text>
<text x="985.3" y="370.8" letter-spacing="0">12 Dec</text>
</g>

<!-- history badge -->
<path d="M8.3 389L15.6 378.4Q16.4 377.2 18 377.2H40A12 12 0 0 1 40 401.2H18Q16.4 401.2 15.6 400Z" fill="#a6b0c3"/>
<g fill="none" stroke="#fff" stroke-width="1.5" stroke-linecap="round" stroke-linejoin="round">
 <path d="M19.2 385.6A5.2 5.2 0 1 1 18.6 390.4"/>
 <path d="M23.6 385.6V388.9L25.7 390.6"/>
</g>
<path d="M17.2 384.9L20.6 386.1L18 388.4Z" fill="#fff"/>
<text x="34.2" y="392.9" font-size="11" fill="#fff" stroke="#fff" stroke-width="0.4">10</text>

<!-- analyze button -->
<path d="M957.5 378.2L962 373.8L966.5 378.2Z" fill="#3259f5"/>
<rect x="919" y="378" width="86" height="23.5" rx="11.75" fill="#3259f5"/>
<g fill="none" stroke="#fff" stroke-width="1.4" stroke-linecap="round" stroke-linejoin="round">
 <path d="M927.6 395.2L927.8 390.6A5.7 5.7 0 1 1 932.6 395.3Z"/>
</g>
<g fill="none" stroke="#fff" stroke-width="1.8" stroke-linecap="round" stroke-linejoin="round">
 <path d="M929.7 392L931.6 387.6L932.9 391.3L934.7 387.6L936.2 391.2L937.8 390.4"/>
 <path d="M990.2 387.1L993.9 390.8L990.2 394.5"/>
</g>
<text x="943.2" y="394" font-size="11" fill="#fff" stroke="#fff" stroke-width="0.45" letter-spacing="0.25">Analyze</text>

<!-- navigator -->
<line x1="8" y1="406.5" x2="1007" y2="406.5" stroke="#f0f2f5" stroke-width="1"/>
<rect x="8" y="410" width="999" height="36.6" fill="url(#navg)"/>
<rect x="999" y="416" width="13.4" height="19.6" rx="6" fill="#fff" filter="url(#hs)"/>
<g stroke="#9ca2ae" stroke-width="1">
 <line x1="1004.3" y1="421.8" x2="1004.3" y2="429.4"/>
 <line x1="1007.3" y1="421.8" x2="1007.3" y2="429.4"/>
</g>
<g font-size="11" fill="#868c98" letter-spacing="0.25">
<text x="40.8" y="462.9" text-anchor="middle">Jan &#39;19</text>
<text x="109.3" y="462.9" text-anchor="middle">Jul &#39;19</text>
<text x="179.3" y="462.9" text-anchor="middle">Jan &#39;20</text>
<text x="248.5" y="462.9" text-anchor="middle">Jul &#39;20</text>
<text x="318.8" y="462.9" text-anchor="middle">Jan &#39;21</text>
<text x="387.9" y="462.9" text-anchor="middle">Jul &#39;21</text>
<text x="457.8" y="462.9" text-anchor="middle">Jan &#39;22</text>
<text x="527" y="462.9" text-anchor="middle">Jul &#39;22</text>
<text x="596.8" y="462.9" text-anchor="middle">Jan &#39;23</text>
<text x="666.3" y="462.9" text-anchor="middle">Jul &#39;23</text>
<text x="735.6" y="462.9" text-anchor="middle">Jan &#39;24</text>
<text x="805.5" y="462.9" text-anchor="middle">Jul &#39;24</text>
<text x="876" y="462.9" text-anchor="middle">Jan &#39;25</text>
<text x="944.3" y="462.9" text-anchor="middle">Jul &#39;25</text>
</g>
</svg>
</body></html>
